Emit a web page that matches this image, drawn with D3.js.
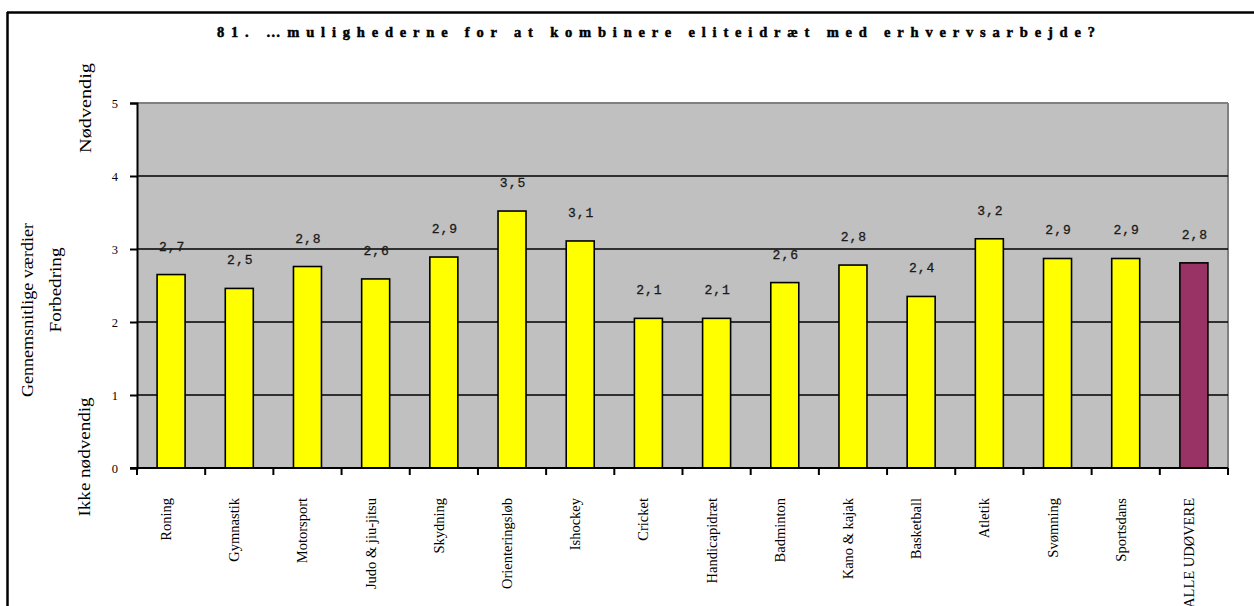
<!DOCTYPE html>
<html><head><meta charset="utf-8">
<script src="https://cdn.jsdelivr.net/npm/d3@7"></script>
<style>html,body{margin:0;padding:0;background:#fff;}svg{display:block;}</style>
</head><body>
<svg id="chart" width="1254" height="606"></svg>
<script>
const categories = ["Roning","Gymnastik","Motorsport","Judo & jiu-jitsu","Skydning","Orienteringsløb","Ishockey","Cricket","Handicapidræt","Badminton","Kano & kajak","Basketball","Atletik","Svømning","Sportsdans","ALLE UDØVERE"];
const values = [2.65,2.46,2.76,2.59,2.89,3.52,3.11,2.05,2.05,2.54,2.78,2.35,3.14,2.87,2.87,2.81];
const valueLabels = ["2,7","2,5","2,8","2,6","2,9","3,5","3,1","2,1","2,1","2,6","2,8","2,4","3,2","2,9","2,9","2,8"];
const yTicks = [0,1,2,3,4,5];
const title = "81. …mulighederne for at kombinere eliteidræt med erhvervsarbejde?";
const yTitles = ["Nødvendig","Gennemsnitlige værdier","Forbedring","Ikke nødvendig"];

const svg = d3.select("#chart");
const L = 137, R = 1228, T = 103, B = 468;
const x = d3.scaleBand().domain(categories).range([L, R]).paddingInner(0).paddingOuter(0);
const y = d3.scaleLinear().domain([0,5]).range([B, T]);

// outer frame
svg.append("line").attr("x1",7).attr("x2",1254).attr("y1",12.5).attr("y2",12.5).attr("stroke","#000").attr("stroke-width",2.5);
svg.append("line").attr("x1",7.5).attr("x2",7.5).attr("y1",12).attr("y2",606).attr("stroke","#000").attr("stroke-width",2.5);

// title
svg.append("text").attr("x",656).attr("y",37).attr("text-anchor","middle")
  .attr("font-family","Liberation Serif").attr("font-weight","bold").attr("font-size",14.5)
  .attr("stroke","#000").attr("stroke-width",0.5)
  .attr("textLength",878).attr("lengthAdjust","spacing").text(title);

// plot background
svg.append("rect").attr("x",L).attr("y",T).attr("width",R-L).attr("height",B-T).attr("fill","#c0c0c0");
// top & right gray border
svg.append("line").attr("x1",L).attr("x2",R).attr("y1",T).attr("y2",T).attr("stroke","#808080").attr("stroke-width",2);
svg.append("line").attr("x1",R).attr("x2",R).attr("y1",T).attr("y2",B).attr("stroke","#808080").attr("stroke-width",2);

// gridlines
svg.append("g").selectAll("line").data(yTicks.filter(d=>d>0 && d<5)).join("line")
  .attr("x1",L).attr("x2",R).attr("y1",d=>y(d)).attr("y2",d=>y(d)).attr("stroke","#000").attr("stroke-width",1.6);

// bars
const bw = 28;
svg.append("g").selectAll("rect").data(categories).join("rect")
  .attr("x",(d)=>x(d)+x.bandwidth()/2-bw/2).attr("width",bw)
  .attr("y",(d,i)=>y(values[i])).attr("height",(d,i)=>B-y(values[i]))
  .attr("fill",(d,i)=>i===categories.length-1?"#993366":"#ffff00")
  .attr("stroke","#000").attr("stroke-width",1.6);

// value labels
svg.append("g").selectAll("text").data(categories).join("text")
  .attr("x",d=>x(d)+x.bandwidth()/2+1).attr("y",(d,i)=>y(values[i])-24)
  .attr("text-anchor","middle").attr("font-family","Liberation Mono").attr("font-size",13)
  .attr("letter-spacing",1).attr("fill","#1a1a1a").attr("stroke","#1a1a1a").attr("stroke-width",0.3)
  .text((d,i)=>valueLabels[i]);

// y axis
const yAxis = d3.axisLeft(y).tickValues(yTicks).tickSize(7).tickPadding(12).tickFormat(d3.format("d"));
const gy = svg.append("g").attr("transform",`translate(${L},0)`).call(yAxis);
gy.select(".domain").attr("stroke","#000").attr("stroke-width",2);
gy.selectAll(".tick line").attr("stroke","#000").attr("stroke-width",2);
gy.selectAll(".tick text").attr("font-family","Liberation Serif").attr("font-size",12.5).attr("fill","#000");

// x axis
const boundaries = categories.map(c=>x(c)).concat([R]);
svg.append("line").attr("x1",L-7).attr("x2",R).attr("y1",B).attr("y2",B).attr("stroke","#000").attr("stroke-width",2);
svg.append("g").selectAll("line").data(boundaries).join("line")
  .attr("x1",d=>d).attr("x2",d=>d).attr("y1",B).attr("y2",B+7).attr("stroke","#000").attr("stroke-width",2);

svg.append("g").selectAll("text").data(categories).join("text")
  .attr("transform",d=>`translate(${x(d)+x.bandwidth()/2},498) rotate(-90)`)
  .attr("text-anchor","end").attr("font-family","Liberation Serif").attr("font-size",14.5)
  .attr("fill","#000").text(d=>d);

// y titles
const yt = [
  {t:yTitles[0], cx:85, cy:108, len:90},
  {t:yTitles[1], cx:27, cy:310, len:174},
  {t:yTitles[2], cx:55, cy:290, len:85},
  {t:yTitles[3], cx:84, cy:457, len:119}
];
svg.append("g").selectAll("text").data(yt).join("text")
  .attr("transform",d=>`translate(${d.cx+6},${d.cy}) rotate(-90)`)
  .attr("text-anchor","middle").attr("font-family","Liberation Serif").attr("font-size",17)
  .attr("textLength",d=>d.len).attr("lengthAdjust","spacingAndGlyphs")
  .attr("fill","#000").text(d=>d.t);
</script>
</body></html>
